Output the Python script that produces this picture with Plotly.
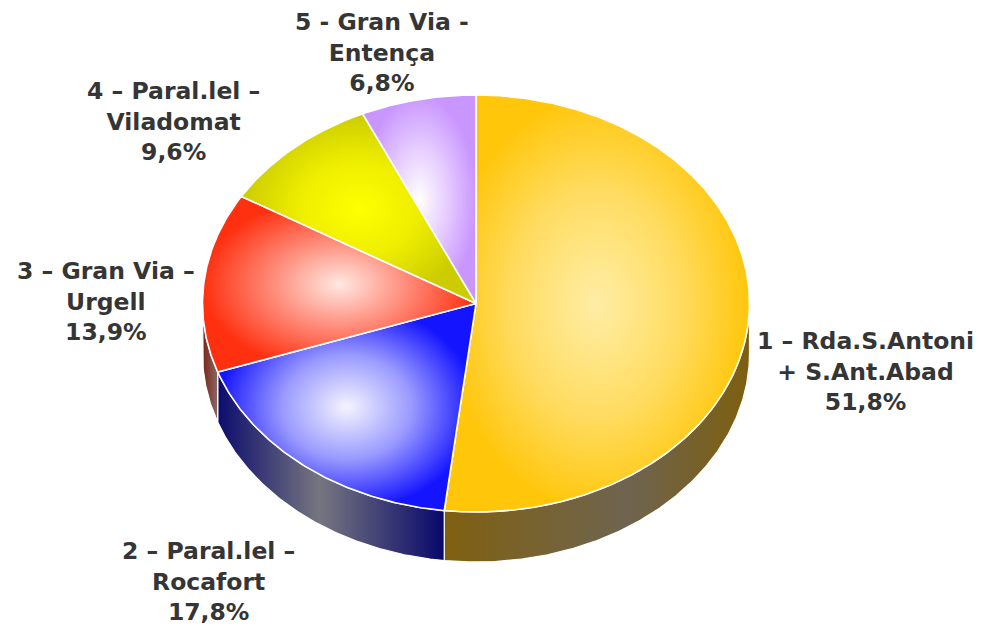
import math
import plotly.graph_objects as go

# ---- data ----
names = ["1 – Rda.S.Antoni<br>+ S.Ant.Abad", "2 – Paral.lel –<br>Rocafort",
         "3 – Gran Via –<br>Urgell", "4 – Paral.lel –<br>Viladomat", "5 - Gran Via -<br>Entença"]
values = [51.8, 17.8, 13.9, 9.6, 6.8]

# ---- style ----
top_colors = [
    [[0, "#FFEDA6"], [0.55, "#FFDC60"], [1, "#FFC60A"]],
    [[0, "#F4F4FF"], [0.5, "#9A9AFF"], [1, "#1414FF"]],
    [[0, "#FFE8E2"], [0.5, "#FF8A78"], [1, "#FF3010"]],
    [[0, "#FFFF00"], [0.5, "#EEEE00"], [1, "#CCCC00"]],
    [[0, "#FFFFFF"], [0.5, "#E6CCFF"], [1, "#C996FF"]],
]
side_colors = [
    [[0, "#806010"], [0.6, "#6E6450"], [1, "#7D5F0E"]],
    [[0, "#0C0C6E"], [0.45, "#767680"], [1, "#08086C"]],
    [[0, "#7A2418"], [1, "#8A6A66"]],
    [[0, "#888800"], [1, "#666600"]],
    [[0, "#8A6AAA"], [1, "#6A4A8A"]],
]
label_pos = [(865, 371), (208, 581), (106, 301), (173, 121), (382, 52)]
CX, CY, RX, RY, DEPTH = 476, 303.5, 273.5, 208.5, 50
W, H = 981, 628
OFF = 8  # page body margin compensation


def pt(theta, dy=0.0):
    t = math.radians(theta)
    return CX + RX * math.sin(t), CY - RY * math.cos(t) + dy


def arc(a, b, dy=0.0, n=None):
    n = n or max(4, int(abs(b - a) * 2))
    xs, ys = [], []
    for k in range(n + 1):
        x, y = pt(a + (b - a) * k / n, dy)
        xs.append(x)
        ys.append(y)
    return xs, ys


total = sum(values)
bounds = []
acc = 0.0
for v in values:
    a = acc / total * 360
    acc += v
    bounds.append((a, acc / total * 360))

fig = go.Figure()

# sides (visible between 90 and 270 degrees)
for i, (a, b) in enumerate(bounds):
    s, e = max(a, 90), min(b, 270)
    if s >= e:
        continue
    x1, y1 = arc(s, e)
    x2, y2 = arc(e, s, DEPTH)
    fig.add_trace(go.Scatter(
        x=x1 + x2 + [x1[0]], y=y1 + y2 + [y1[0]], mode="lines", fill="toself",
        line=dict(color="white", width=1.2),
        fillgradient=dict(type="horizontal", colorscale=side_colors[i]),
        hoverinfo="skip", showlegend=False))

# tops
for i, (a, b) in enumerate(bounds):
    xs, ys = arc(a, b)
    fig.add_trace(go.Scatter(
        x=[CX] + xs + [CX], y=[CY] + ys + [CY], mode="lines", fill="toself",
        line=dict(color="white", width=1.6),
        fillgradient=dict(type="radial", colorscale=top_colors[i]),
        hoverinfo="skip", showlegend=False))

for i, v in enumerate(values):
    pct = f"{v:.1f}".replace(".", ",") + "%"
    x, y = label_pos[i]
    fig.add_annotation(x=x, y=y, xref="x", yref="y", text=f"<b>{names[i]}<br>{pct}</b>",
                       showarrow=False, xanchor="center", yanchor="middle", align="center",
                       font=dict(family="DejaVu Sans", size=23.5, color="#353535"))

fig.update_layout(
    width=W - OFF, height=H - OFF, margin=dict(l=0, r=0, t=0, b=0),
    paper_bgcolor="white", plot_bgcolor="white",
    xaxis=dict(range=[OFF, W], visible=False, fixedrange=True),
    yaxis=dict(range=[H, OFF], visible=False, fixedrange=True),
)
fig.write_html("out.html")
